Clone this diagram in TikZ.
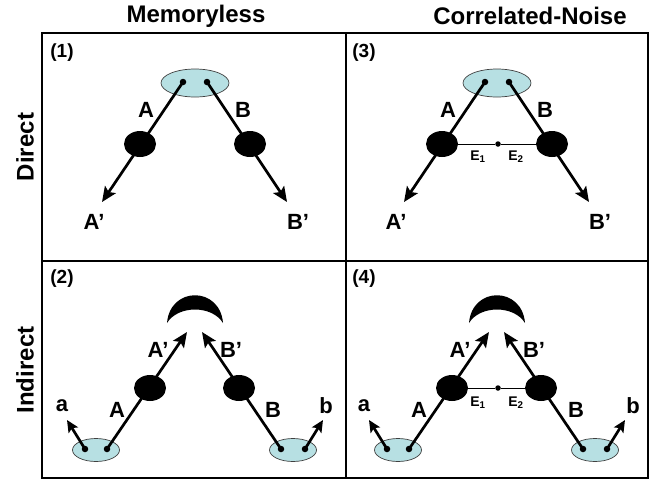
\documentclass[tikz,border=0pt]{standalone}
\usepackage{fontspec}
\setmainfont{Liberation Sans}
\usetikzlibrary{arrows.meta,shapes.geometric}
\definecolor{src_blue}{RGB}{183,224,227}
\tikzstyle{src}=[ellipse,fill=src_blue,draw=black!75,line width=0.7pt,
  inner sep=0pt,minimum width=68pt,minimum height=28pt]
\tikzstyle{srcs}=[src,minimum width=47pt,minimum height=23pt]
\tikzstyle{qb}=[circle,fill=black,inner sep=0pt,minimum size=6.5pt]
\tikzstyle{ch}=[ellipse,fill=black,inner sep=0pt,minimum width=32pt,minimum height=26pt]
\tikzstyle{mid}=[circle,fill=black,inner sep=0pt,minimum size=5.5pt]
\tikzstyle{arr}=[line width=2.7pt,-{Stealth[length=15pt,width=13pt,inset=3pt]}]
\tikzstyle{sarr}=[line width=2.7pt,-{Stealth[length=12pt,width=11pt,inset=2.5pt]}]
\tikzstyle{lbl}=[font=\fontsize{22}{22}\selectfont\bfseries,inner sep=0pt]
\tikzstyle{num}=[font=\fontsize{19}{19}\selectfont\bfseries,inner sep=0pt]
\tikzstyle{hd}=[font=\fontsize{24}{24}\selectfont\bfseries,inner sep=0pt]
\tikzstyle{el}=[font=\fontsize{14}{14}\selectfont\bfseries,inner sep=0pt]

\begin{document}
\begin{tikzpicture}[x=1pt,y=-1pt]
    \useasboundingbox (0,0) rectangle (656,491);
    % table
    \draw[line width=2.3pt] (42,33) rectangle (648,478);
    \draw[line width=2.3pt] (346,33) -- (346,478);
    \draw[line width=2.3pt] (42,261) -- (648,261);
    \node [hd] (hm) at (196,16) {Memoryless};
    \node [hd] (hc) at (530,16) {Correlated-Noise};
    \node [hd,rotate=90] (hdir) at (25,147) {Direct};
    \node [hd,rotate=90] (hind) at (25,370) {Indirect};

    % (1)
    \node [num] (n1) at (62,53) {(1)};
    \node [src] (e1) at (195,83) {};
    \node [qb] (d1a) at (183,82) {};
    \node [qb] (d1b) at (207,82) {};
    \node [ch] (c1a) at (140,144) {};
    \node [ch] (c1b) at (250,144) {};
    \coordinate (t1a) at (102,202);
    \coordinate (t1b) at (287,202);
    \draw [arr] (d1a.center) to (t1a);
    \draw [arr] (d1b.center) to (t1b);
    \node [lbl] (l1a) at (146,110) {A};
    \node [lbl] (l1b) at (243,110) {B};
    \node [lbl] (l1c) at (94,222) {A’};
    \node [lbl] (l1d) at (298,222) {B’};

    % (3)
    \node [num] (n3) at (364,53) {(3)};
    \node [src] (e3) at (497,83) {};
    \node [qb] (d3a) at (485,82) {};
    \node [qb] (d3b) at (509,82) {};
    \node [ch] (c3a) at (442,144) {};
    \node [ch] (c3b) at (552,144) {};
    \node [mid] (m3) at (498,144) {};
    \coordinate (t3a) at (404,202);
    \coordinate (t3b) at (589,202);
    \draw [arr] (d3a.center) to (t3a);
    \draw [arr] (d3b.center) to (t3b);
    \draw [line width=1pt] (c3a) to (m3);
    \draw [line width=1pt] (m3) to (c3b);
    \node [el] (k3a) at (478,157) {E\textsubscript{1}};
    \node [el] (k3b) at (516,157) {E\textsubscript{2}};
    \node [lbl] (l3a) at (448,110) {A};
    \node [lbl] (l3b) at (545,110) {B};
    \node [lbl] (l3c) at (396,222) {A’};
    \node [lbl] (l3d) at (600,222) {B’};

    % (2)
    \node [num] (n2) at (62,279) {(2)};
    \fill (167,323) .. controls (170,286) and (220,286) .. (223,323)
      .. controls (212,305) and (178,305) .. (167,323);
    \node [srcs] (s2a) at (96,450) {};
    \node [srcs] (s2b) at (293,450) {};
    \node [qb] (d2a) at (85,449) {};
    \node [qb] (d2b) at (107,449) {};
    \node [qb] (d2c) at (281,449) {};
    \node [qb] (d2d) at (305,449) {};
    \node [ch] (c2a) at (150,388) {};
    \node [ch] (c2b) at (239,388) {};
    \coordinate (t2a) at (187,332);
    \coordinate (t2b) at (202,332);
    \coordinate (u2a) at (67,420);
    \coordinate (u2b) at (323,420);
    \draw [arr] (d2b.center) to (t2a);
    \draw [arr] (d2c.center) to (t2b);
    \draw [sarr] (d2a.center) to (u2a);
    \draw [sarr] (d2d.center) to (u2b);
    \node [lbl] (l2a) at (62,406) {a};
    \node [lbl] (l2b) at (326,406) {b};
    \node [lbl] (l2c) at (117,410) {A};
    \node [lbl] (l2d) at (273,410) {B};
    \node [lbl] (l2e) at (158,350) {A’};
    \node [lbl] (l2f) at (231,350) {B’};

    % (4)
    \node [num] (n4) at (364,279) {(4)};
    \fill (469,323) .. controls (472,286) and (522,286) .. (525,323)
      .. controls (514,305) and (480,305) .. (469,323);
    \node [srcs] (s4a) at (398,450) {};
    \node [srcs] (s4b) at (595,450) {};
    \node [qb] (d4a) at (387,449) {};
    \node [qb] (d4b) at (409,449) {};
    \node [qb] (d4c) at (583,449) {};
    \node [qb] (d4d) at (607,449) {};
    \node [ch] (c4a) at (452,388) {};
    \node [ch] (c4b) at (541,388) {};
    \node [mid] (m4) at (498,388) {};
    \coordinate (t4a) at (489,332);
    \coordinate (t4b) at (504,332);
    \coordinate (u4a) at (369,420);
    \coordinate (u4b) at (625,420);
    \draw [arr] (d4b.center) to (t4a);
    \draw [arr] (d4c.center) to (t4b);
    \draw [sarr] (d4a.center) to (u4a);
    \draw [sarr] (d4d.center) to (u4b);
    \draw [line width=1pt] (c4a) to (m4);
    \draw [line width=1pt] (m4) to (c4b);
    \node [el] (k4a) at (478,403) {E\textsubscript{1}};
    \node [el] (k4b) at (516,403) {E\textsubscript{2}};
    \node [lbl] (l4a) at (364,406) {a};
    \node [lbl] (l4b) at (633,406) {b};
    \node [lbl] (l4c) at (419,410) {A};
    \node [lbl] (l4d) at (576,410) {B};
    \node [lbl] (l4e) at (460,350) {A’};
    \node [lbl] (l4f) at (534,350) {B’};
\end{tikzpicture}
\end{document}
